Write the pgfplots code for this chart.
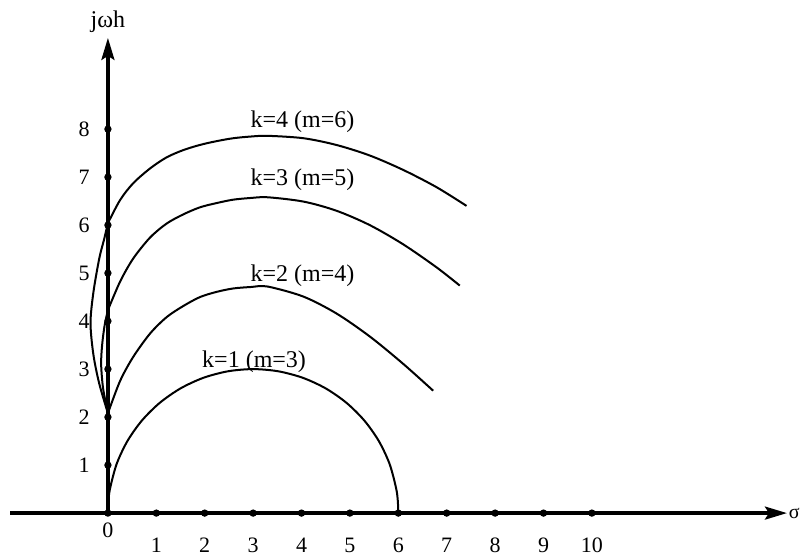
\documentclass[border=0pt]{standalone}
\usepackage{pgfplots}
\pgfplotsset{compat=1.18}
\usepackage{fontspec}
\setmainfont{Liberation Serif}
\usetikzlibrary{arrows.meta}

\begin{document}
\begin{tikzpicture}
\begin{axis}[
  x=24.2pt, y=24pt,
  xmin=-2.02, xmax=14.03, ymin=0, ymax=9.9,
  axis lines=middle,
  axis line style={line width=1.6pt, -{Stealth[length=11pt,width=6.5pt,inset=2pt]}},
  xtick={1,...,10}, ytick={1,...,8},
  major tick length=0pt,
  tick label style={font=\fontsize{11}{13}\selectfont},
  /pgf/number format/assume math mode=true,
  xticklabel style={anchor=base, inner sep=0pt, yshift=-19.5pt},
  yticklabel style={anchor=east, inner sep=0pt, xshift=-9pt},
  clip=false,
  every axis plot/.append style={line width=1.0pt, black},
]
% page extent
\path (axis cs:-2.23,-0.958) rectangle (axis cs:14.30,10.69);

% k=1 (m=3)
\addplot[smooth] coordinates {
  (0,0) (0.011,0.262) (0.046,0.521) (0.181,1.026) (0.402,1.5) (0.702,1.928)
  (1.072,2.298) (1.5,2.598) (1.974,2.819) (2.479,2.954) (3,3) (3.521,2.954)
  (4.026,2.819) (4.5,2.598) (4.928,2.298) (5.298,1.928) (5.598,1.5)
  (5.819,1.026) (5.954,0.521) (5.989,0.262) (6,0)
};
% k=2 (m=4)
\addplot[smooth] coordinates {
  (0,2.08) (0.25,2.75) (0.52,3.25) (0.87,3.74) (1.21,4.08) (1.55,4.31)
  (1.9,4.5) (2.25,4.61) (2.59,4.68) (2.95,4.71) (3.3,4.72) (4.04,4.51)
  (4.72,4.16) (5.41,3.68) (6.1,3.11) (6.72,2.55)
};
% k=3 (m=5)
\addplot[smooth] coordinates {
  (0,4.23) (0.25,4.82) (0.52,5.3) (0.87,5.74) (1.21,6.03) (1.55,6.22)
  (1.9,6.37) (2.25,6.46) (2.59,6.53) (2.95,6.565) (3.3,6.58) (4.04,6.49)
  (4.72,6.30) (5.41,6.00) (6.1,5.60) (6.79,5.12) (7.27,4.74)
};
\addplot[smooth] coordinates {
  (0,4.23) (-0.07,3.9) (-0.12,3.5) (-0.14,3.1) (-0.1,2.6) (0,2.08)
};
% k=4 (m=6)
\addplot[smooth] coordinates {
  (0,6.04) (0.25,6.52) (0.52,6.87) (0.87,7.18) (1.21,7.41) (1.55,7.56)
  (1.9,7.67) (2.25,7.75) (2.59,7.81) (2.95,7.845) (3.3,7.86) (4.04,7.81)
  (4.72,7.67) (5.41,7.45) (6.1,7.15) (6.79,6.79) (7.41,6.40)
};
\addplot[smooth] coordinates {
  (0,6.04) (-0.08,5.7) (-0.18,5.3) (-0.3,4.6) (-0.36,3.96) (-0.3,3.3)
  (-0.18,2.7) (0,2.08)
};

% dots on the axes
\addplot[only marks, mark=*, mark size=1.3pt] coordinates {
  (0,0) (1,0) (2,0) (3,0) (4,0) (5,0) (6,0) (7,0) (8,0) (9,0) (10,0)
  (0,1) (0,2) (0,3) (0,4) (0,5) (0,6) (0,7) (0,8)
};

% curve labels
\begin{scope}[font=\fontsize{12}{14}\selectfont]
\node[anchor=base] at (axis cs:4.02,8.03) {k=4 (m=6)};
\node[anchor=base] at (axis cs:4.02,6.83) {k=3 (m=5)};
\node[anchor=base] at (axis cs:4.02,4.83) {k=2 (m=4)};
\node[anchor=base] at (axis cs:3.02,3.04) {k=1 (m=3)};
\node[anchor=base] at (axis cs:0,10.125) {jωh};
\node[anchor=east, inner sep=0pt, font=\fontsize{10}{12}\selectfont] at (axis cs:14.30,0) {σ};
\node[anchor=base, inner sep=0pt, font=\fontsize{11}{13}\selectfont] at (axis cs:0,-0.5) {0};
\end{scope}
\end{axis}
\end{tikzpicture}
\end{document}
